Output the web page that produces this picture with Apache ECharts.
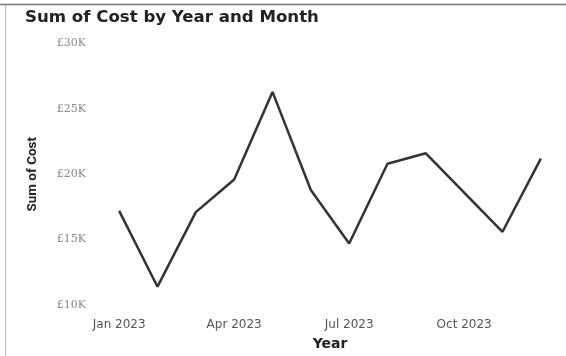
<!DOCTYPE html>
<html>
<head>
<meta charset="utf-8">
<script src="https://cdn.jsdelivr.net/npm/echarts@6/dist/echarts.min.js"></script>
<style>html,body{margin:0;padding:0;background:#fff}#c{width:566px;height:356px}</style>
</head>
<body>
<div id="c"></div>
<script>
const months = ['Jan 2023','Feb 2023','Mar 2023','Apr 2023','May 2023','Jun 2023','Jul 2023','Aug 2023','Sep 2023','Oct 2023','Nov 2023','Dec 2023'];
const costs = [17200, 11400, 17100, 19600, 26300, 18800, 14700, 20800, 21600, 18600, 15600, 21200];
const yTicks = [10000, 15000, 20000, 25000, 30000];

const chart = echarts.init(document.getElementById('c'));
chart.setOption({
  animation: false,
  title: {
    text: 'Sum of Cost by Year and Month',
    left: 20, top: 4,
    textStyle: {fontFamily: 'DejaVu Sans', fontWeight: 'bold', fontSize: 16.6, color: '#222'}
  },
  graphic: [
    {type: 'line', shape: {x1: 0, y1: 4.5, x2: 566, y2: 4.5}, style: {stroke: '#777', lineWidth: 1.5}},
    {type: 'line', shape: {x1: 5.5, y1: 5, x2: 5.5, y2: 356}, style: {stroke: '#bbb', lineWidth: 1}}
  ],
  grid: {left: 100, right: 6, top: 43.5, bottom: 49},
  xAxis: {
    type: 'category',
    data: months,
    boundaryGap: true,
    name: 'Year',
    nameLocation: 'middle',
    nameGap: 32,
    nameTextStyle: {fontFamily: 'DejaVu Sans', fontWeight: 'bold', fontSize: 14, color: '#222'},
    axisLine: {show: false},
    axisTick: {show: false},
    axisLabel: {interval: 2, color: '#555', fontSize: 12, fontFamily: 'DejaVu Sans', margin: 14}
  },
  yAxis: {
    type: 'value',
    min: yTicks[0], max: yTicks[yTicks.length - 1], interval: 5000,
    name: 'Sum of Cost',
    nameLocation: 'middle',
    nameGap: 60,
    nameTextStyle: {fontFamily: 'Roboto', fontWeight: 'bold', fontSize: 13.5, color: '#222'},
    axisLine: {show: false},
    axisTick: {show: false},
    splitLine: {show: false},
    axisLabel: {
      color: '#888', fontSize: 11, fontFamily: 'DejaVu Serif', margin: 14,
      formatter: v => '£' + (v / 1000) + 'K'
    }
  },
  series: [{
    type: 'line',
    data: costs,
    showSymbol: false,
    lineStyle: {color: '#333', width: 2.5},
    itemStyle: {color: '#333'}
  }]
});
</script>
</body>
</html>
